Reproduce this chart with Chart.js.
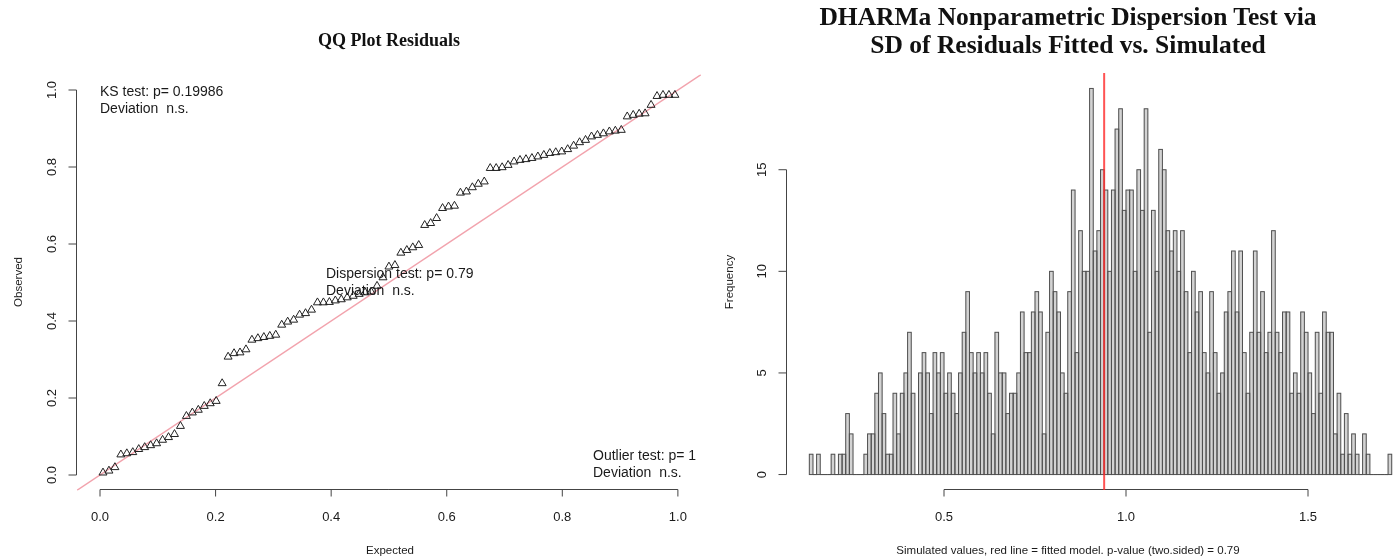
<!DOCTYPE html>
<html><head><meta charset="utf-8">
<script src="https://cdn.jsdelivr.net/npm/chart.js@4.4.1/dist/chart.umd.min.js"></script>
<style>
html,body{margin:0;padding:0;background:#fff;width:1400px;height:560px;overflow:hidden;}
#wrap{position:relative;width:1400px;height:560px;}
canvas{position:absolute;top:0;}
.t{position:absolute;white-space:pre;font-family:"Liberation Sans",Arial,sans-serif;color:#1a1a1a;}
.ann{font-size:14px;line-height:17px;}
.lab{font-size:11.5px;line-height:14px;text-align:center;}
.title{position:absolute;font-family:"Liberation Serif","Times New Roman",serif;font-weight:bold;color:#111;text-align:center;white-space:pre;}
</style></head><body>
<div id="wrap">
<canvas id="qq" width="720" height="560" style="left:0px;width:720px;height:560px"></canvas>
<canvas id="hist" width="680" height="560" style="left:720px;width:680px;height:560px"></canvas>

<div class="title" style="left:189px;width:400px;top:30px;font-size:18px;line-height:20px;">QQ Plot Residuals</div>
<div class="title" style="left:718px;width:700px;top:3px;font-size:25.5px;line-height:28px;">DHARMa Nonparametric Dispersion Test via
SD of Residuals Fitted vs. Simulated</div>

<div class="t ann" style="left:100px;top:83px;">KS test: p= 0.19986
Deviation  n.s.</div>
<div class="t ann" style="left:326px;top:265px;">Dispersion test: p= 0.79
Deviation  n.s.</div>
<div class="t ann" style="left:593px;top:447px;">Outlier test: p= 1
Deviation  n.s.</div>

<div class="t lab" style="left:290px;width:200px;top:543px;">Expected</div>
<div class="t lab" style="left:-82px;width:200px;top:275px;transform:rotate(-90deg);">Observed</div>
<div class="t lab" style="left:868px;width:400px;top:543px;">Simulated values, red line = fitted model. p-value (two.sided) = 0.79</div>
<div class="t lab" style="left:629px;width:200px;top:275px;transform:rotate(-90deg);">Frequency</div>
</div>
<script>
// ---------- QQ plot data ----------
const qqObserved = [
 0.006,0.011,0.020,0.053,0.056,0.059,0.067,0.072,0.077,0.082,
 0.091,0.098,0.106,0.127,0.153,0.162,0.169,0.179,0.186,0.192,
 0.238,0.307,0.316,0.318,0.326,0.351,0.355,0.358,0.361,0.364,
 0.390,0.398,0.403,0.416,0.420,0.429,0.448,0.448,0.449,0.453,
 0.456,0.461,0.465,0.470,0.474,0.476,0.491,0.513,
 0.541,0.545,0.577,0.584,0.591,0.597,0.649,0.654,0.667,0.693,
 0.697,0.699,0.733,0.736,0.747,0.756,0.762,0.797,0.797,0.799,
 0.805,0.814,0.818,0.820,0.823,0.827,0.831,0.836,0.838,0.840,
 0.846,0.855,0.864,0.870,0.879,0.883,0.887,0.892,0.894,0.896,
 0.931,0.935,0.938,0.939,0.961,0.984,0.987,0.987,0.987
];
const qqTicks = [0, 0.2, 0.4, 0.6, 0.8, 1.0];
const qqTickLabels = ['0.0','0.2','0.4','0.6','0.8','1.0'];
const qqRange = [-0.04, 1.04];

// ---------- Histogram data ----------
const histBinStart = 0.13;
const histBinWidth = 0.01;
const histCounts = [
 1,0,1,0,0,0,1,0,1,1, 3,2,0,0,0,1,2,2,4,5,
 3,1,1,4,2,4,5,7,4,0, 5,6,5,3,6,5,6,4,5,4,
 3,5,7,9,6,5,6,5,6,4, 2,7,5,5,3,4,4,5,8,6,
 6,8,9,8,2,7,10,9,8,5, 4,9,14,6,12,10,10,19,11,12,
 15,14,10,14,17,18,13,14,14,10, 15,13,18,7,13,10,16,15,12,11,
 12,10,12,9,6,10,8,9,6,5, 9,6,4,5,8,9,11,8,11,6,
 4,7,11,7,9,6,7,12,7,6, 8,8,4,5,4,8,7,5,3,7,
 4,8,7,7,2,4,1,3,1,2, 1,0,2,1,0,0,0,0,0,1
];
const histXTicks = [0.5, 1.0, 1.5];
const histXTickLabels = ['0.5','1.0','1.5'];
const histYTicks = [0, 5, 10, 15];
const histYTickLabels = ['0','5','10','15'];
const observedSD = 0.94;
const histXRange = [0.068681, 1.752747];
const histYRange = [-0.76, 19.76];

// ---------- R style axes plugin ----------
function rAxes(cfg){
  return {
    id:'rAxes',
    afterDraw(chart){
      const ctx = chart.ctx, xs = chart.scales.x, ys = chart.scales.y, a = chart.chartArea;
      ctx.save();
      ctx.strokeStyle = '#444'; ctx.lineWidth = 1; ctx.fillStyle = '#1a1a1a';
      ctx.font = '13px "Liberation Sans", Arial, sans-serif';
      const yb = Math.round(a.bottom) - 0.5;
      ctx.beginPath();
      ctx.moveTo(xs.getPixelForValue(cfg.xTicks[0]), yb);
      ctx.lineTo(xs.getPixelForValue(cfg.xTicks[cfg.xTicks.length-1]), yb);
      cfg.xTicks.forEach(v => { const p = xs.getPixelForValue(v); ctx.moveTo(p, yb); ctx.lineTo(p, yb + 7); });
      const xl = Math.round(a.left) - 0.5;
      ctx.moveTo(xl, ys.getPixelForValue(cfg.yTicks[0]));
      ctx.lineTo(xl, ys.getPixelForValue(cfg.yTicks[cfg.yTicks.length-1]));
      cfg.yTicks.forEach(v => { const p = ys.getPixelForValue(v); ctx.moveTo(xl, p); ctx.lineTo(xl - 8, p); });
      ctx.stroke();
      ctx.textAlign = 'center'; ctx.textBaseline = 'middle';
      cfg.xTicks.forEach((v,i) => ctx.fillText(cfg.xLabels[i], xs.getPixelForValue(v), yb + 28));
      cfg.yTicks.forEach((v,i) => {
        ctx.save(); ctx.translate(xl - 24, ys.getPixelForValue(v)); ctx.rotate(-Math.PI/2);
        ctx.fillText(cfg.yLabels[i], 0, 0); ctx.restore();
      });
      ctx.restore();
    }
  };
}

Chart.defaults.font.family = '"Liberation Sans", Arial, sans-serif';

// ---------- QQ chart ----------
const n = qqObserved.length;
const qqPoints = qqObserved.map((v, i) => ({x: (i + 0.5) / n, y: v})); // ppoints expected quantiles
new Chart(document.getElementById('qq'), {
  type: 'scatter',
  data: { datasets: [
    { data: qqPoints, pointStyle: 'triangle', pointRadius: 4.6, pointBorderColor: '#222',
      pointBackgroundColor: 'rgba(0,0,0,0)', pointBorderWidth: 1, showLine: false },
    { data: [{x: qqRange[0], y: qqRange[0]}, {x: qqRange[1], y: qqRange[1]}], showLine: true,
      pointRadius: 0, borderColor: '#f2a3ad', borderWidth: 1.3 }
  ]},
  options: {
    responsive: false, animation: false, events: [],
    layout: { padding: { left: 76.9, top: 74.6, right: 19, bottom: 69.6 } },
    scales: {
      x: { type: 'linear', min: qqRange[0], max: qqRange[1], display: false },
      y: { type: 'linear', min: qqRange[0], max: qqRange[1], display: false }
    },
    plugins: { legend: { display: false }, tooltip: { enabled: false } }
  },
  plugins: [rAxes({xTicks: qqTicks, xLabels: qqTickLabels, yTicks: qqTicks, yLabels: qqTickLabels})]
});

// ---------- Histogram chart ----------
const histData = histCounts.map((c, i) => ({x: histBinStart + histBinWidth * (i + 0.5), y: c}));
const barOutline = {
  id: 'barOutline',
  afterDatasetsDraw(chart){
    const ctx = chart.ctx, meta = chart.getDatasetMeta(0);
    ctx.save(); ctx.strokeStyle = '#505050'; ctx.lineWidth = 1;
    meta.data.forEach(el => {
      const p = el.getProps(['x','y','base','width'], true);
      ctx.strokeRect(p.x - p.width/2, p.y, p.width, p.base - p.y);
    });
    ctx.restore();
  }
};
const redLine = {
  id: 'redLine',
  afterDraw(chart){
    const ctx = chart.ctx, a = chart.chartArea, px = chart.scales.x.getPixelForValue(observedSD);
    ctx.save(); ctx.strokeStyle = 'rgba(255,40,40,0.8)'; ctx.lineWidth = 2;
    ctx.beginPath(); ctx.moveTo(px, a.top); ctx.lineTo(px, a.bottom); ctx.stroke(); ctx.restore();
  }
};
new Chart(document.getElementById('hist'), {
  type: 'bar',
  data: { datasets: [{ data: histData, backgroundColor: '#d3d3d3', borderWidth: 0,
    barPercentage: 1, categoryPercentage: 1 }]},
  options: {
    responsive: false, animation: false, events: [],
    layout: { padding: { left: 67, top: 73, right: 0, bottom: 70 } },
    scales: {
      x: { type: 'linear', min: histXRange[0], max: histXRange[1], offset: false, display: false },
      y: { type: 'linear', min: histYRange[0], max: histYRange[1], display: false }
    },
    plugins: { legend: { display: false }, tooltip: { enabled: false } }
  },
  plugins: [barOutline, rAxes({xTicks: histXTicks, xLabels: histXTickLabels, yTicks: histYTicks, yLabels: histYTickLabels}), redLine]
});
</script>
</body></html>
